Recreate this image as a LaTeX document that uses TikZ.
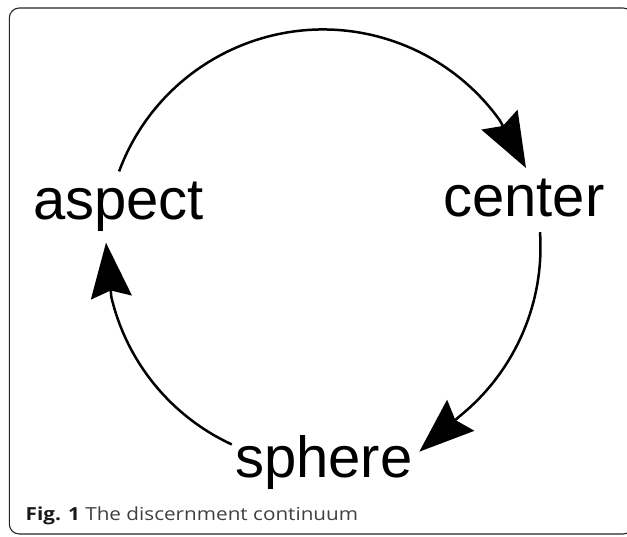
\documentclass[tikz,border=0pt]{standalone}
\usepackage{fontspec}
\setmainfont{Liberation Sans}
\newfontfamily\capfont[FakeStretch=1.15]{Open Sans}
\usetikzlibrary{arrows.meta}
\begin{document}
\begin{tikzpicture}[x=1pt,y=1pt,
  lbl/.style={anchor=base west, inner sep=0pt, font=\fontsize{58}{60}\selectfont},
  conn/.style={line width=2.5pt, -{Stealth[length=55pt, width=41pt, inset=7pt]}},
  frame/.style={line width=1.1pt, draw=black!85, rounded corners=10pt}]
\useasboundingbox (0,0) rectangle (627,536);
\clip (0,0) rectangle (627,536);
\fill[white] (0,0) rectangle (627,536);
\draw[frame] (9.3,2) rectangle (633,528);
\coordinate (O) at (323,289);
\node[lbl] (aspect) at (33,316) {aspect};
\node[lbl] (center) at (443,319) {center};
\node[lbl] (sphere) at (235,59) {sphere};
\node[anchor=base west, inner sep=0pt, font=\capfont\fontsize{18}{20}\selectfont, text=black!75] (cap) at (25.5,16) {\textcolor{black!90}{\textbf{Fig. 1}} The discernment continuum};
\path (O) ++(159.65:217.5) coordinate (s1);
\path (O) ++(3.9:217.5) coordinate (s2);
\path (O) ++(245.2:217.5) coordinate (s3);
\coordinate (t1) at (526,368);
\coordinate (t2) at (419.3,84.3);
\coordinate (t3) at (106,293.3);
\draw[conn] (s1) arc[start angle=159.65, end angle=35.6, radius=217.5] -- (t1);
\draw[conn] (s2) arc[start angle=3.9, end angle=-50.9, radius=217.5] -- (t2);
\draw[conn] (s3) arc[start angle=245.2, end angle=193.3, radius=217.5] -- (t3);
\end{tikzpicture}
\end{document}
